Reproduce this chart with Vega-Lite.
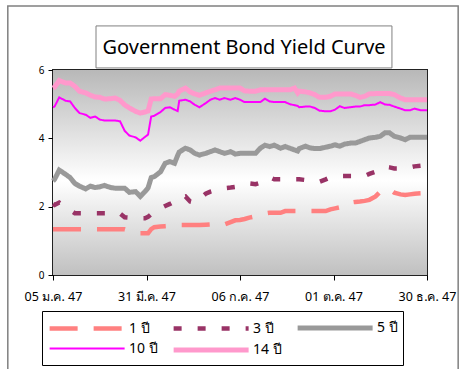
{
  "$schema": "https://vega.github.io/schema/vega-lite/v6.json",
  "width": 374,
  "height": 205,
  "autosize": {"type": "none"},
  "padding": {"left": 53, "top": 70, "right": 33, "bottom": 94},
  "background": "white",
  "config": {
    "font": "Noto Sans",
    "view": {"stroke": "#222222", "strokeWidth": 2}
  },
  "datasets": {
    "yields": [
      {"d": 0, "1 ปี": 1.34, "3 ปี": 2.08, "5 ปี": 2.75, "10 ปี": 4.91, "14 ปี": 5.47},
      {"d": 1, "1 ปี": 1.34, "3 ปี": 2.05, "5 ปี": 2.8, "10 ปี": 4.93, "14 ปี": 5.5},
      {"d": 4, "1 ปี": 1.34, "3 ปี": 2.12, "5 ปี": 3.07, "10 ปี": 5.2, "14 ปี": 5.69},
      {"d": 8, "1 ปี": 1.34, "3 ปี": 2.0, "5 ปี": 2.95, "10 ปี": 5.1, "14 ปี": 5.62},
      {"d": 11, "1 ปี": 1.34, "3 ปี": 1.9, "5 ปี": 2.85, "10 ปี": 5.08, "14 ปี": 5.62},
      {"d": 14, "1 ปี": 1.34, "3 ปี": 1.81, "5 ปี": 2.68, "10 ปี": 4.89, "14 ปี": 5.52},
      {"d": 17, "1 ปี": 1.34, "3 ปี": 1.81, "5 ปี": 2.6, "10 ปี": 4.74, "14 ปี": 5.38},
      {"d": 21, "1 ปี": 1.34, "3 ปี": 1.81, "5 ปี": 2.52, "10 ปี": 4.69, "14 ปี": 5.33},
      {"d": 24, "1 ปี": 1.34, "3 ปี": 1.81, "5 ปี": 2.6, "10 ปี": 4.6, "14 ปี": 5.26},
      {"d": 27, "1 ปี": 1.34, "3 ปี": 1.81, "5 ปี": 2.56, "10 ปี": 4.64, "14 ปี": 5.21},
      {"d": 30, "1 ปี": 1.34, "3 ปี": 1.81, "5 ปี": 2.58, "10 ปี": 4.55, "14 ปี": 5.2},
      {"d": 33, "1 ปี": 1.34, "3 ปี": 1.81, "5 ปี": 2.62, "10 ปี": 4.52, "14 ปี": 5.15},
      {"d": 37, "1 ปี": 1.34, "3 ปี": 1.81, "5 ปี": 2.56, "10 ปี": 4.52, "14 ปี": 5.16},
      {"d": 40, "1 ปี": 1.34, "3 ปี": 1.81, "5 ปี": 2.54, "10 ปี": 4.52, "14 ปี": 5.18},
      {"d": 43, "1 ปี": 1.34, "3 ปี": 1.8, "5 ปี": 2.54, "10 ปี": 4.5, "14 ปี": 5.11},
      {"d": 46, "1 ปี": 1.34, "3 ปี": 1.69, "5 ปี": 2.54, "10 ปี": 4.22, "14 ปี": 4.98},
      {"d": 49, "1 ปี": 1.3, "3 ปี": 1.68, "5 ปี": 2.42, "10 ปี": 4.08, "14 ปี": 4.89},
      {"d": 53, "1 ปี": 1.26, "3 ปี": 1.67, "5 ปี": 2.44, "10 ปี": 4.03, "14 ปี": 4.79},
      {"d": 56, "1 ปี": 1.22, "3 ปี": 1.66, "5 ปี": 2.3, "10 ปี": 3.93, "14 ปี": 4.74},
      {"d": 59, "1 ปี": 1.22, "3 ปี": 1.66, "5 ปี": 2.44, "10 ปี": 4.04, "14 ปี": 4.77},
      {"d": 61, "1 ปี": 1.22, "3 ปี": 1.7, "5 ปี": 2.55, "10 ปี": 4.11, "14 ปี": 4.8},
      {"d": 63, "1 ปี": 1.34, "3 ปี": 1.78, "5 ปี": 2.85, "10 ปี": 4.64, "14 ปี": 5.15},
      {"d": 65, "1 ปี": 1.4, "3 ปี": 1.85, "5 ปี": 2.88, "10 ปี": 4.66, "14 ปี": 5.16},
      {"d": 69, "1 ปี": 1.42, "3 ปี": 1.95, "5 ปี": 3.02, "10 ปี": 4.77, "14 ปี": 5.16},
      {"d": 72, "1 ปี": 1.43, "3 ปี": 2.02, "5 ปี": 3.27, "10 ปี": 4.89, "14 ปี": 5.28},
      {"d": 75, "1 ปี": 1.44, "3 ปี": 2.08, "5 ปี": 3.32, "10 ปี": 4.91, "14 ปี": 5.26},
      {"d": 78, "1 ปี": 1.45, "3 ปี": 2.15, "5 ปี": 3.27, "10 ปี": 4.84, "14 ปี": 5.23},
      {"d": 80, "1 ปี": 1.46, "3 ปี": 2.2, "5 ปี": 3.5, "10 ปี": 4.8, "14 ปี": 5.3},
      {"d": 81, "1 ปี": 1.46, "3 ปี": 2.26, "5 ปี": 3.6, "10 ปี": 5.1, "14 ปี": 5.38},
      {"d": 85, "1 ปี": 1.46, "3 ปี": 2.3, "5 ปี": 3.71, "10 ปี": 5.13, "14 ปี": 5.47},
      {"d": 88, "1 ปี": 1.46, "3 ปี": 2.15, "5 ปี": 3.66, "10 ปี": 5.08, "14 ปี": 5.36},
      {"d": 91, "1 ปี": 1.46, "3 ปี": 2.12, "5 ปี": 3.56, "10 ปี": 4.98, "14 ปี": 5.3},
      {"d": 94, "1 ปี": 1.46, "3 ปี": 2.22, "5 ปี": 3.51, "10 ปี": 4.91, "14 ปี": 5.26},
      {"d": 98, "1 ปี": 1.47, "3 ปี": 2.38, "5 ปี": 3.56, "10 ปี": 5.03, "14 ปี": 5.33},
      {"d": 101, "1 ปี": 1.48, "3 ปี": 2.44, "5 ปี": 3.61, "10 ปี": 5.13, "14 ปี": 5.38},
      {"d": 104, "1 ปี": 1.5, "3 ปี": 2.48, "5 ปี": 3.66, "10 ปี": 5.18, "14 ปี": 5.42},
      {"d": 107, "1 ปี": 1.46, "3 ปี": 2.52, "5 ปี": 3.61, "10 ปี": 5.13, "14 ปี": 5.47},
      {"d": 110, "1 ปี": 1.48, "3 ปี": 2.54, "5 ปี": 3.56, "10 ปี": 5.18, "14 ปี": 5.47},
      {"d": 114, "1 ปี": 1.55, "3 ปี": 2.56, "5 ปี": 3.61, "10 ปี": 5.13, "14 ปี": 5.47},
      {"d": 117, "1 ปี": 1.6, "3 ปี": 2.58, "5 ปี": 3.54, "10 ปี": 5.18, "14 ปี": 5.47},
      {"d": 120, "1 ปี": 1.61, "3 ปี": 2.6, "5 ปี": 3.56, "10 ปี": 5.13, "14 ปี": 5.47},
      {"d": 123, "1 ปี": 1.64, "3 ปี": 2.64, "5 ปี": 3.56, "10 ปี": 5.06, "14 ปี": 5.39},
      {"d": 126, "1 ปี": 1.68, "3 ปี": 2.68, "5 ปี": 3.56, "10 ปี": 5.06, "14 ปี": 5.38},
      {"d": 130, "1 ปี": 1.72, "3 ปี": 2.66, "5 ปี": 3.56, "10 ปี": 5.06, "14 ปี": 5.38},
      {"d": 133, "1 ปี": 1.76, "3 ปี": 2.7, "5 ปี": 3.71, "10 ปี": 5.06, "14 ปี": 5.42},
      {"d": 136, "1 ปี": 1.8, "3 ปี": 2.78, "5 ปี": 3.8, "10 ปี": 5.16, "14 ปี": 5.42},
      {"d": 139, "1 ปี": 1.82, "3 ปี": 2.86, "5 ปี": 3.76, "10 ปี": 5.08, "14 ปี": 5.42},
      {"d": 142, "1 ปี": 1.82, "3 ปี": 2.8, "5 ปี": 3.8, "10 ปี": 5.06, "14 ปี": 5.42},
      {"d": 146, "1 ปี": 1.82, "3 ปี": 2.8, "5 ปี": 3.71, "10 ปี": 5.06, "14 ปี": 5.42},
      {"d": 149, "1 ปี": 1.87, "3 ปี": 2.8, "5 ปี": 3.76, "10 ปี": 5.06, "14 ปี": 5.42},
      {"d": 152, "1 ปี": 1.87, "3 ปี": 2.8, "5 ปี": 3.71, "10 ปี": 5.0, "14 ปี": 5.42},
      {"d": 155, "1 ปี": 1.87, "3 ปี": 2.8, "5 ปี": 3.66, "10 ปี": 4.97, "14 ปี": 5.47},
      {"d": 157, "1 ปี": 1.87, "3 ปี": 2.8, "5 ปี": 3.63, "10 ปี": 4.95, "14 ปี": 5.33},
      {"d": 158, "1 ปี": 1.87, "3 ปี": 2.8, "5 ปี": 3.7, "10 ปี": 4.91, "14 ปี": 5.38},
      {"d": 162, "1 ปี": 1.87, "3 ปี": 2.78, "5 ปี": 3.77, "10 ปี": 4.93, "14 ปี": 5.36},
      {"d": 165, "1 ปี": 1.87, "3 ปี": 2.76, "5 ปี": 3.72, "10 ปี": 4.93, "14 ปี": 5.33},
      {"d": 168, "1 ปี": 1.87, "3 ปี": 2.73, "5 ปี": 3.7, "10 ปี": 4.89, "14 ปี": 5.28},
      {"d": 171, "1 ปี": 1.87, "3 ปี": 2.73, "5 ปี": 3.7, "10 ปี": 4.81, "14 ปี": 5.2},
      {"d": 175, "1 ปี": 1.87, "3 ปี": 2.8, "5 ปี": 3.74, "10 ปี": 4.79, "14 ปี": 5.2},
      {"d": 178, "1 ปี": 1.92, "3 ปี": 2.86, "5 ปี": 3.77, "10 ปี": 4.79, "14 ปี": 5.23},
      {"d": 181, "1 ปี": 1.95, "3 ปี": 2.88, "5 ปี": 3.81, "10 ปี": 4.84, "14 ปี": 5.3},
      {"d": 184, "1 ปี": 1.98, "3 ปี": 2.9, "5 ปี": 3.77, "10 ปี": 4.94, "14 ปี": 5.3},
      {"d": 187, "1 ปี": 2.0, "3 ปี": 2.9, "5 ปี": 3.83, "10 ปี": 4.89, "14 ปี": 5.3},
      {"d": 191, "1 ปี": 2.12, "3 ปี": 2.9, "5 ปี": 3.86, "10 ปี": 4.91, "14 ปี": 5.3},
      {"d": 194, "1 ปี": 2.14, "3 ปี": 2.9, "5 ปี": 3.86, "10 ปี": 4.93, "14 ปี": 5.26},
      {"d": 197, "1 ปี": 2.15, "3 ปี": 2.9, "5 ปี": 3.91, "10 ปี": 4.93, "14 ปี": 5.2},
      {"d": 200, "1 ปี": 2.17, "3 ปี": 2.9, "5 ปี": 3.96, "10 ปี": 4.97, "14 ปี": 5.23},
      {"d": 203, "1 ปี": 2.2, "3 ปี": 2.96, "5 ปี": 4.01, "10 ปี": 4.97, "14 ปี": 5.3},
      {"d": 207, "1 ปี": 2.3, "3 ปี": 3.02, "5 ปี": 4.03, "10 ปี": 4.99, "14 ปี": 5.31},
      {"d": 210, "1 ปี": 2.44, "3 ปี": 3.1, "5 ปี": 4.06, "10 ปี": 5.06, "14 ปี": 5.31},
      {"d": 213, "1 ปี": 2.45, "3 ปี": 3.17, "5 ปี": 4.16, "10 ปี": 4.99, "14 ปี": 5.31},
      {"d": 216, "1 ปี": 2.51, "3 ปี": 3.15, "5 ปี": 4.16, "10 ปี": 4.98, "14 ปี": 5.31},
      {"d": 219, "1 ปี": 2.41, "3 ปี": 3.12, "5 ปี": 4.06, "10 ปี": 4.93, "14 ปี": 5.28},
      {"d": 223, "1 ปี": 2.36, "3 ปี": 3.12, "5 ปี": 4.01, "10 ปี": 4.87, "14 ปี": 5.18},
      {"d": 226, "1 ปี": 2.34, "3 ปี": 3.12, "5 ปี": 3.96, "10 ปี": 4.82, "14 ปี": 5.13},
      {"d": 229, "1 ปี": 2.36, "3 ปี": 3.15, "5 ปี": 4.03, "10 ปี": 4.82, "14 ปี": 5.13},
      {"d": 232, "1 ปี": 2.38, "3 ปี": 3.18, "5 ปี": 4.03, "10 ปี": 4.87, "14 ปี": 5.13},
      {"d": 236, "1 ปี": 2.39, "3 ปี": 3.2, "5 ปี": 4.03, "10 ปี": 4.82, "14 ปี": 5.13},
      {"d": 240, "1 ปี": 2.39, "3 ปี": 3.22, "5 ปี": 4.03, "10 ปี": 4.82, "14 ปี": 5.13}
    ],
    "frames": [
      {"name": "outer", "x1": -29, "x2": 260, "y1": -4, "y2": 7.87},
      {"name": "titlebox", "x1": 27.6, "x2": 217.5, "y1": 6.06, "y2": 7.29}
    ],
    "titles": [
      {"x": 122.6, "y": 6.46, "text": "Government Bond Yield Curve"}
    ]
  },
  "layer": [
    {
      "data": {"name": "frames"},
      "transform": [{"filter": "datum.name === 'outer'"}],
      "mark": {"type": "rect", "fill": null, "stroke": "#808080", "strokeWidth": 1.5, "clip": false},
      "encoding": {
        "x": {"field": "x1", "type": "quantitative", "scale": {"domain": [0, 240], "nice": false, "zero": false}},
        "x2": {"field": "x2"},
        "y": {"field": "y1", "type": "quantitative", "scale": {"domain": [0, 6], "nice": false}},
        "y2": {"field": "y2"}
      }
    },
    {
      "data": {"name": "frames"},
      "transform": [{"filter": "datum.name === 'titlebox'"}],
      "mark": {"type": "rect", "fill": "white", "stroke": "#808080", "strokeWidth": 1, "clip": false},
      "encoding": {
        "x": {"field": "x1", "type": "quantitative"},
        "x2": {"field": "x2"},
        "y": {"field": "y1", "type": "quantitative"},
        "y2": {"field": "y2"}
      }
    },
    {
      "data": {"name": "titles"},
      "mark": {"type": "text", "font": "Noto Sans", "fontSize": 20, "color": "black", "align": "center", "baseline": "alphabetic", "clip": false},
      "encoding": {
        "x": {"field": "x", "type": "quantitative"},
        "y": {"field": "y", "type": "quantitative"},
        "text": {"field": "text"}
      }
    },
    {
      "data": {"values": [{"a": 0}]},
      "mark": {
        "type": "rect",
        "color": {
          "gradient": "linear", "x1": 0, "y1": 0, "x2": 0, "y2": 1,
          "stops": [
            {"offset": 0, "color": "#b8b8b8"},
            {"offset": 0.54, "color": "#ffffff"},
            {"offset": 1, "color": "#c0c0c0"}
          ]
        }
      },
      "encoding": {
        "x": {"datum": 0, "type": "quantitative"},
        "x2": {"datum": 240},
        "y": {"datum": 0, "type": "quantitative"},
        "y2": {"datum": 6}
      }
    },
    {
      "data": {"name": "yields"},
      "transform": [{"fold": ["1 ปี", "3 ปี", "5 ปี", "10 ปี", "14 ปี"], "as": ["series", "yield"]}],
      "mark": {"type": "line", "strokeCap": "butt", "strokeJoin": "miter"},
      "encoding": {
        "x": {
          "field": "d", "type": "quantitative",
          "axis": {
            "title": null, "grid": false, "values": [0, 60, 120, 180, 240],
            "domain": false, "tickColor": "black", "tickSize": 5, "tickWidth": 1,
            "labelFont": "Noto Sans", "labelFontSize": 12.5, "labelColor": "black", "labelPadding": 10,
            "labelExpr": "datum.value == 0 ? '05 ม.ค. 47' : datum.value == 60 ? '31 มี.ค. 47' : datum.value == 120 ? '06 ก.ค. 47' : datum.value == 180 ? '01 ต.ค. 47' : '30 ธ.ค. 47'",
            "labelOverlap": false, "labelFlush": false
          }
        },
        "y": {
          "field": "yield", "type": "quantitative",
          "axis": {
            "title": null, "grid": false, "values": [0, 1, 2, 3, 4, 5, 6],
            "domain": false, "tickColor": "black", "tickSize": 5, "tickWidth": 1,
            "labelFont": "Noto Sans", "labelFontSize": 10, "labelColor": "black", "labelPadding": 4
          }
        },
        "color": {
          "field": "series", "type": "nominal",
          "scale": {
            "domain": ["1 ปี", "3 ปี", "5 ปี", "10 ปี", "14 ปี"],
            "range": ["#ff8080", "#993366", "#999999", "#ff00ff", "#ff99cc"]
          },
          "legend": {
            "title": null, "orient": "none", "legendX": -11, "legendY": 241,
            "direction": "horizontal", "columns": 3, "columnPadding": 5, "rowPadding": 0,
            "strokeColor": "black", "padding": 5, "fillColor": "white",
            "symbolType": "M-1,0H7", "symbolSize": 351.5,
            "labelFont": "Noto Sans", "labelFontSize": 14, "labelColor": "black", "labelOffset": 58,
            "labelLimit": 200
          }
        },
        "strokeDash": {
          "field": "series", "type": "nominal",
          "scale": {
            "domain": ["1 ปี", "3 ปี", "5 ปี", "10 ปี", "14 ปี"],
            "range": [[28, 16], [8, 16], [1, 0], [1, 0], [1, 0]]
          },
          "legend": null
        },
        "strokeWidth": {
          "field": "series", "type": "nominal",
          "scale": {
            "type": "ordinal",
            "domain": ["1 ปี", "3 ปี", "5 ปี", "10 ปี", "14 ปี"],
            "range": [4.5, 4.5, 5, 2, 5]
          },
          "legend": null
        }
      }
    }
  ]
}
